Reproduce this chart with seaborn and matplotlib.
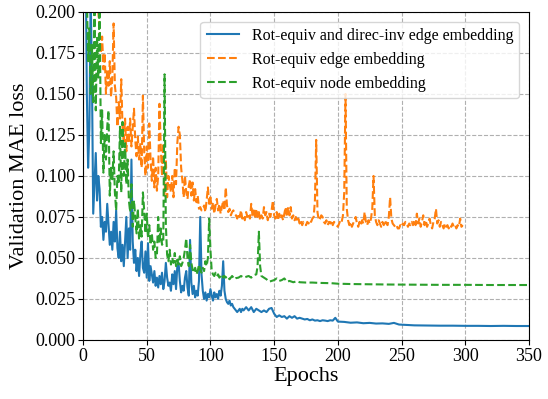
import matplotlib
matplotlib.use("Agg")
import matplotlib.pyplot as plt
import seaborn as sns
import pandas as pd

# ---------------- data ----------------
blue_epochs = list(range(0, 126)) + list(range(126, 202, 2)) + [
    205, 210, 215, 220, 225, 230, 235, 240, 244, 248, 255, 260, 270, 280,
    290, 300, 310, 320, 330, 340, 350]
blue_loss = [
    0.26, 0.21, 0.24, 0.15, 0.105, 0.13, 0.21, 0.16, 0.077, 0.095,
    0.114, 0.085, 0.100, 0.092, 0.069, 0.075, 0.061, 0.072, 0.066, 0.083,
    0.070, 0.058, 0.066, 0.055, 0.072, 0.060, 0.079, 0.056, 0.050, 0.066,
    0.048, 0.058, 0.045, 0.060, 0.075, 0.050, 0.068, 0.055, 0.110, 0.060,
    0.047, 0.055, 0.042, 0.050, 0.039, 0.052, 0.060, 0.044, 0.041, 0.054,
    0.038, 0.059, 0.036, 0.045, 0.040, 0.035, 0.042, 0.033, 0.038, 0.032,
    0.039, 0.034, 0.041, 0.031, 0.036, 0.047, 0.038, 0.033, 0.035, 0.030,
    0.040, 0.034, 0.042, 0.031, 0.045, 0.047, 0.036, 0.029, 0.033, 0.030,
    0.038, 0.042, 0.032, 0.027, 0.061, 0.035, 0.028, 0.033, 0.026, 0.030,
    0.027, 0.036, 0.075, 0.040, 0.030, 0.025, 0.029, 0.024, 0.028, 0.026,
    0.031, 0.027, 0.024, 0.029, 0.026, 0.028, 0.025, 0.030, 0.027, 0.033,
    0.048, 0.030, 0.025, 0.023, 0.022, 0.024, 0.021, 0.022, 0.020, 0.019,
    0.018, 0.017, 0.018, 0.019, 0.017, 0.019,
    0.018, 0.020, 0.018, 0.020, 0.017, 0.019, 0.018, 0.017, 0.018, 0.017,
    0.019, 0.0195, 0.016, 0.014, 0.015, 0.014, 0.0145, 0.013, 0.0145, 0.0135,
    0.0145, 0.013, 0.0135, 0.013, 0.0125, 0.0128, 0.012, 0.0125, 0.0118, 0.012,
    0.0115, 0.012, 0.0118, 0.0115, 0.012, 0.0118, 0.0135, 0.0112,
    0.011, 0.0105, 0.0107, 0.0102, 0.0104, 0.0100, 0.0101, 0.0098, 0.0104, 0.0094,
    0.0091, 0.0089, 0.0088, 0.0087, 0.0087, 0.0086, 0.0086, 0.0085, 0.0086, 0.0085,
    0.0085]

orange_epochs = list(range(10, 299))
orange_loss = [
    0.23, 0.21, 0.20, 0.19, 0.175, 0.185, 0.165, 0.175, 0.150, 0.165,
    0.155, 0.170, 0.148, 0.160, 0.193, 0.155, 0.148, 0.130, 0.145, 0.135,
    0.159, 0.130, 0.120, 0.135, 0.115, 0.130, 0.120, 0.135, 0.118, 0.130,
    0.141, 0.122, 0.112, 0.124, 0.110, 0.120, 0.105, 0.149, 0.115, 0.100,
    0.118, 0.105, 0.132, 0.110, 0.097, 0.112, 0.093, 0.105, 0.091, 0.100,
    0.144, 0.118, 0.100, 0.120, 0.088, 0.110, 0.087, 0.100, 0.095, 0.090,
    0.100, 0.087, 0.105, 0.095, 0.120, 0.130, 0.125, 0.105, 0.097, 0.087,
    0.100, 0.090, 0.086, 0.094, 0.098, 0.088, 0.096, 0.085, 0.092, 0.084,
    0.088, 0.080, 0.081, 0.079, 0.080, 0.082, 0.078, 0.085, 0.093, 0.083,
    0.087, 0.080, 0.084, 0.077, 0.082, 0.086, 0.079, 0.083, 0.077, 0.081,
    0.085, 0.079, 0.093, 0.082, 0.078, 0.080, 0.076, 0.078, 0.079, 0.077,
    0.076, 0.074, 0.077, 0.075, 0.079, 0.074,
    0.076, 0.073, 0.078, 0.075, 0.077, 0.074, 0.083, 0.076, 0.079, 0.074,
    0.080, 0.075, 0.078, 0.073, 0.076, 0.074, 0.081, 0.076, 0.078, 0.073,
    0.077, 0.075, 0.079, 0.085, 0.076, 0.074, 0.078, 0.073, 0.077, 0.074,
    0.076, 0.073, 0.077, 0.081, 0.075, 0.081, 0.076, 0.081, 0.074, 0.076,
    0.073, 0.075, 0.072, 0.074, 0.071, 0.073, 0.070, 0.072, 0.071, 0.070,
    0.072, 0.071, 0.073, 0.072, 0.074, 0.075, 0.085, 0.122, 0.078, 0.073,
    0.074, 0.076, 0.075, 0.072, 0.071, 0.073, 0.070, 0.072, 0.071, 0.073,
    0.070, 0.072, 0.071, 0.070, 0.069, 0.071, 0.073, 0.072, 0.076, 0.090,
    0.150, 0.080, 0.073, 0.070, 0.072, 0.069, 0.071, 0.073, 0.075, 0.071,
    0.069, 0.072, 0.070, 0.073, 0.071, 0.078, 0.072, 0.070, 0.073, 0.071,
    0.074, 0.080, 0.100, 0.076, 0.072, 0.070, 0.073, 0.071, 0.069, 0.072,
    0.070, 0.073, 0.071, 0.070, 0.075, 0.087, 0.074, 0.071, 0.070, 0.069,
    0.070, 0.068, 0.068, 0.070, 0.069, 0.071, 0.070, 0.072, 0.071, 0.069,
    0.071, 0.070, 0.072, 0.070, 0.073, 0.070, 0.077, 0.071, 0.074, 0.069,
    0.072, 0.076, 0.070, 0.073, 0.069, 0.071, 0.074, 0.070, 0.068, 0.072,
    0.074, 0.080, 0.071, 0.073, 0.069, 0.072, 0.070, 0.068, 0.071, 0.069,
    0.070, 0.068, 0.070, 0.069, 0.071, 0.069, 0.070, 0.068, 0.070, 0.069,
    0.074, 0.069, 0.070]

green_epochs = list(range(0, 121)) + [
    122, 124, 126, 128, 130, 132, 134, 136, 137, 138, 139, 140, 142, 144,
    146, 148, 150, 152, 154, 156, 158, 160, 162, 165, 168, 170, 175, 180,
    185, 190, 195, 200, 210, 220, 230, 240, 260, 280, 300, 320, 350]
green_loss = [
    0.25, 0.22, 0.20, 0.21, 0.17, 0.19, 0.15, 0.18, 0.145, 0.20,
    0.14, 0.185, 0.16, 0.21, 0.12, 0.14, 0.102, 0.125, 0.11, 0.13,
    0.14, 0.088, 0.105, 0.098, 0.115, 0.09, 0.079, 0.10, 0.095, 0.13,
    0.09, 0.133, 0.10, 0.12, 0.095, 0.11, 0.085, 0.078, 0.095, 0.069,
    0.085, 0.075, 0.065, 0.08, 0.061, 0.07, 0.063, 0.09, 0.079, 0.065,
    0.077, 0.062, 0.07, 0.058, 0.065, 0.055, 0.06, 0.05, 0.052, 0.075,
    0.059, 0.068, 0.058, 0.06, 0.162, 0.07, 0.052, 0.048, 0.055, 0.046,
    0.05, 0.047, 0.053, 0.045, 0.049, 0.046, 0.051, 0.045, 0.047, 0.05,
    0.055, 0.062, 0.05, 0.045, 0.058, 0.047, 0.043, 0.041, 0.044, 0.04,
    0.042, 0.046, 0.043, 0.041, 0.044, 0.042, 0.048, 0.045, 0.05, 0.074,
    0.055, 0.042, 0.04, 0.039, 0.041, 0.039, 0.04, 0.038, 0.039, 0.04,
    0.038, 0.039, 0.038, 0.039, 0.038, 0.037, 0.038, 0.039, 0.038, 0.037,
    0.0377,
    0.038, 0.039, 0.038, 0.0385, 0.039, 0.038, 0.0395, 0.040, 0.045, 0.066,
    0.045, 0.039, 0.038, 0.037, 0.0355, 0.036, 0.0365, 0.0375, 0.036, 0.0365,
    0.0375, 0.0355, 0.036, 0.0352, 0.0358, 0.0352, 0.035, 0.035, 0.0348, 0.0347,
    0.0346, 0.0343, 0.0341, 0.034, 0.0339, 0.0338, 0.0337, 0.0336, 0.0336, 0.0335,
    0.0335]

labels = ["Rot-equiv and direc-inv edge embedding",
          "Rot-equiv edge embedding",
          "Rot-equiv node embedding"]
colors = ["#1f77b4", "#ff7f0e", "#2ca02c"]
y_ticks = [0.0, 0.025, 0.05, 0.075, 0.1, 0.125, 0.15, 0.175, 0.2]
x_ticks = [0, 50, 100, 150, 200, 250, 300, 350]

# ---------------- plot ----------------
plt.rcParams["font.family"] = ["Liberation Serif", "DejaVu Serif"]
fig = plt.figure(figsize=(5.48, 3.99), dpi=100)
ax = fig.add_axes([0.1515, 0.148, 0.8138, 0.822])

series = [(blue_epochs, blue_loss, "-"),
          (orange_epochs, orange_loss, "--"),
          (green_epochs, green_loss, "--")]
for (ep, ls_vals, style), lab, col in zip(series, labels, colors):
    df = pd.DataFrame({"epoch": ep, "loss": ls_vals})
    sns.lineplot(data=df, x="epoch", y="loss", ax=ax, color=col,
                 linestyle=style, linewidth=1.5, label=lab)

ax.set_xlim(0, 350)
ax.set_ylim(0, 0.2)
ax.set_xticks(x_ticks)
ax.set_yticks(y_ticks)
ax.set_yticklabels([f"{v:.3f}" for v in y_ticks])
ax.tick_params(labelsize=13, pad=2)
ax.grid(True, linestyle="--", color="#b0b0b0", linewidth=0.8)
ax.set_axisbelow(True)
ax.set_xlabel("Epochs", fontsize=16, labelpad=2)
ax.set_ylabel("Validation MAE loss", fontsize=16)
ax.legend(loc="upper right", fontsize=11.5, framealpha=0.8,
          labelspacing=0.5, borderaxespad=0.6)

fig.savefig("out.png", dpi=100)
